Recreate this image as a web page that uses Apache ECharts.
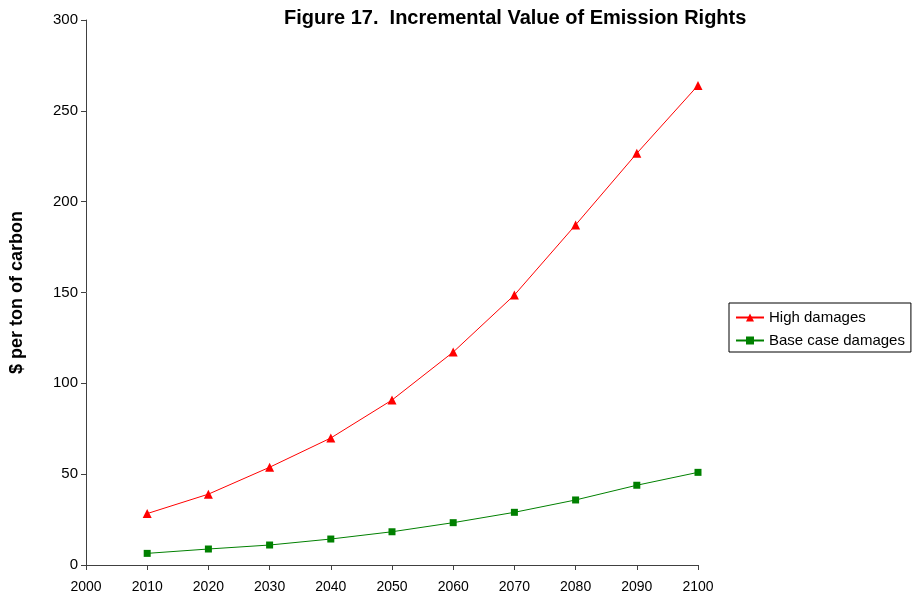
<!DOCTYPE html>
<html><head><meta charset="utf-8">
<script src="https://cdn.jsdelivr.net/npm/echarts@6/dist/echarts.min.js"></script>
<style>html,body{margin:0;padding:0;background:#fff}#c{width:922px;height:600px}</style>
</head><body><div id="c"></div>
<script>
const years = [2010, 2020, 2030, 2040, 2050, 2060, 2070, 2080, 2090, 2100];
const highDamages = [28.3, 39, 53.8, 69.9, 90.8, 117.2, 148.6, 187.2, 226.6, 264];
const baseDamages = [6.4, 8.8, 11, 14.3, 18.3, 23.3, 29, 35.8, 43.9, 51];
const seriesNames = ['High damages', 'Base case damages'];
const titleText = 'Figure 17.  Incremental Value of Emission Rights';
const yAxisName = '$ per ton of carbon';

const chart = echarts.init(document.getElementById('c'));
const font = 'Liberation Sans, Arial, sans-serif';
chart.setOption({
  animation: false,
  textStyle: { fontFamily: font },
  title: { text: titleText, left: 279, top: 3,
    textStyle: { fontFamily: font, fontSize: 20, fontWeight: 'bold', color: '#000' } },
  grid: { left: 81, right: 224, top: 20, bottom: 35 },
  legend: {
    orient: 'vertical', left: 729, top: 303,
    borderColor: '#000', borderWidth: 1, padding: [7, 6, 4, 6],
    itemWidth: 28, itemHeight: 10, itemGap: 8,
    textStyle: { fontFamily: font, fontSize: 15, color: '#000' },
    data: seriesNames
  },
  xAxis: {
    type: 'value', min: 2000, max: 2100, interval: 10,
    axisLine: { lineStyle: { color: '#404040', width: 1 } },
    axisTick: { show: true, length: 5, lineStyle: { color: '#404040' } },
    axisLabel: { color: '#000', fontSize: 14, margin: 15, fontFamily: font, formatter: v => String(v) },
    splitLine: { show: false }
  },
  yAxis: {
    type: 'value', min: 0, max: 300, interval: 50,
    name: yAxisName, nameLocation: 'middle', nameGap: 60,
    nameTextStyle: { fontFamily: font, fontSize: 18, fontWeight: 'bold', color: '#000' },
    axisLine: { show: true, lineStyle: { color: '#404040', width: 1 } },
    axisTick: { show: true, length: 5, lineStyle: { color: '#404040' } },
    axisLabel: { color: '#000', fontSize: 15, margin: 8, fontFamily: font },
    splitLine: { show: false }
  },
  series: [
    { name: seriesNames[0], type: 'line', data: years.map((y, i) => [y, highDamages[i]]),
      symbol: 'triangle', symbolSize: 9,
      itemStyle: { color: '#ff0000' }, lineStyle: { color: '#ff0000', width: 1 } },
    { name: seriesNames[1], type: 'line', data: years.map((y, i) => [y, baseDamages[i]]),
      symbol: 'rect', symbolSize: 7,
      itemStyle: { color: '#008000' }, lineStyle: { color: '#008000', width: 1 } }
  ]
});
</script></body></html>
